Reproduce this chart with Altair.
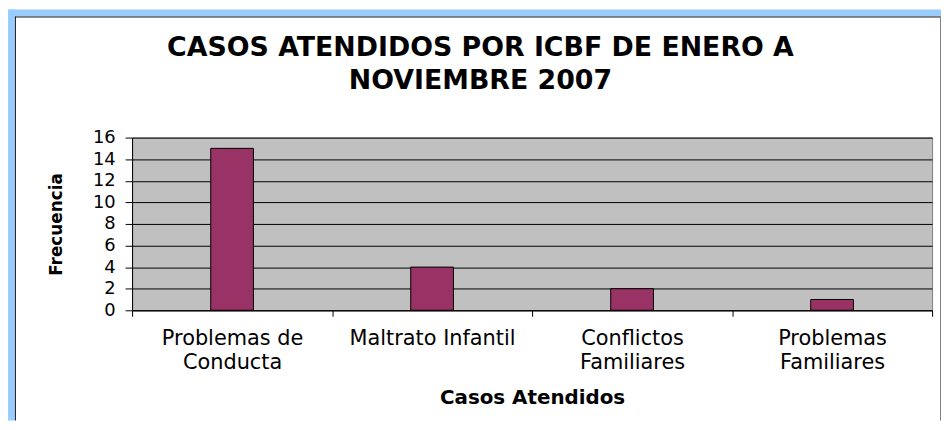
import altair as alt
import pandas as pd

# ---- data ----
categorias = ["Problemas de Conducta", "Maltrato Infantil", "Conflictos Familiares", "Problemas Familiares"]
frecuencia = [15, 4, 2, 1]
y_ticks = [0, 2, 4, 6, 8, 10, 12, 14, 16]
titulo = ["CASOS ATENDIDOS POR ICBF DE ENERO A", "NOVIEMBRE 2007"]

FONT = "DejaVu Sans"
W, H = 806, 174
PAD_L, PAD_T, PAD_R, PAD_B = 125, 129, 9, 111

df = pd.DataFrame({"caso": categorias, "frecuencia": frecuencia})
one = pd.DataFrame({"k": [0]})

label_expr = (
    "datum.label == 'Maltrato Infantil' ? datum.label : "
    "[substring(datum.label, 0, lastindexof(datum.label, ' ')), "
    "substring(datum.label, lastindexof(datum.label, ' ') + 1)]"
)

bars = alt.Chart(df).mark_bar(
    size=43, fill="#993366", stroke="#000000", strokeWidth=1
).encode(
    x=alt.X(
        "caso:N", sort=categorias,
        scale=alt.Scale(paddingInner=0, paddingOuter=0),
        axis=alt.Axis(
            title="Casos Atendidos", labelAngle=0, labelExpr=label_expr,
            tickBand="extent", tickSize=6, tickColor="#000000",
            domainColor="#000000", labelFont=FONT, labelFontSize=21,
            labelLineHeight=25, labelColor="#000000", labelPadding=11,
            titleFont=FONT, titleFontSize=20, titleFontWeight="bold",
            titleColor="#000000", titlePadding=15, grid=False,
        ),
    ),
    y=alt.Y(
        "frecuencia:Q",
        scale=alt.Scale(domain=[0, 16], nice=False),
        axis=alt.Axis(
            title="Frecuencia", values=y_ticks, grid=True,
            gridColor="#000000", gridWidth=1, tickSize=7,
            tickColor="#000000", domainColor="#000000",
            labelFont=FONT, labelFontSize=18, labelColor="#000000",
            labelPadding=10, titleFont=FONT, titleFontSize=17,
            titleFontWeight="bold", titleColor="#000000", titlePadding=27,
        ),
    ),
)


def deco(x0, x1, y0, y1, color):
    return alt.Chart(one).mark_rect(color=color).encode(
        x=alt.value(x0), x2=alt.value(x1), y=alt.value(y0), y2=alt.value(y1)
    )

right = W + PAD_R
bottom = H + PAD_B
frame = [
    deco(-PAD_L, right, -PAD_T, -PAD_T + 7, "#99CCFF"),
    deco(-PAD_L, -PAD_L + 7, -PAD_T, bottom, "#99CCFF"),
    deco(-PAD_L + 7, right, -PAD_T + 7, -PAD_T + 8, "#1a1a1a"),
    deco(-PAD_L + 7, -PAD_L + 8, -PAD_T + 7, bottom, "#1a1a1a"),
    deco(right - 1, right, -PAD_T + 8, bottom, "#808080"),
]

title_mark = alt.Chart(one).mark_text(
    text=titulo, font=FONT, fontSize=27, fontWeight="bold", color="#000000",
    lineHeight=33, align="center", baseline="alphabetic",
).encode(x=alt.value(351), y=alt.value(-82))

chart = alt.layer(*frame, title_mark, bars).properties(
    width=W, height=H,
    autosize=alt.AutoSizeParams(type="none"),
    padding={"left": PAD_L, "top": PAD_T, "right": PAD_R, "bottom": PAD_B},
    background="#ffffff",
).configure_view(fill="#C0C0C0", stroke="#808080", strokeWidth=1)

chart.save("out.html", embed_options={"renderer": "svg", "actions": False})
